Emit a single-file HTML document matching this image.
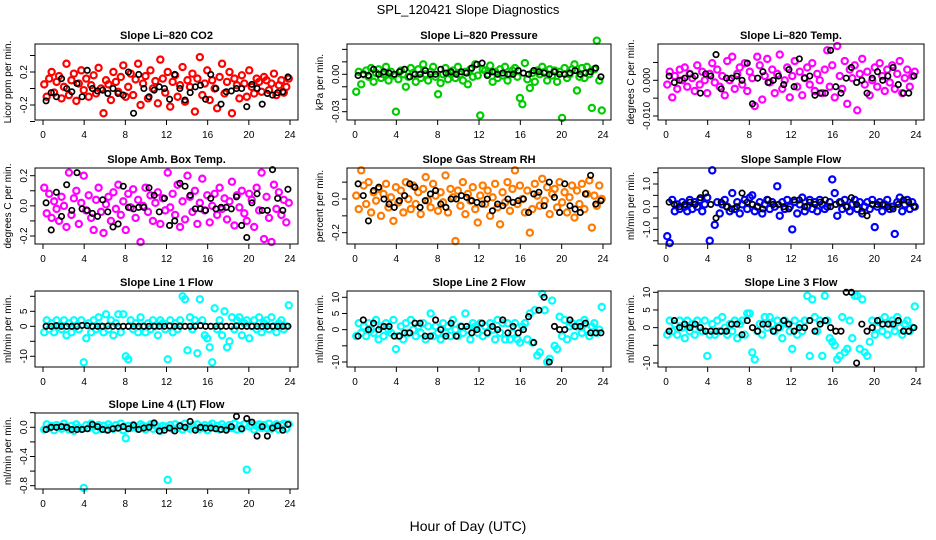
<!DOCTYPE html>
<html><head><meta charset="utf-8"><style>
html,body{margin:0;padding:0;background:#fff;}
svg{display:block;font-family:"Liberation Sans",sans-serif;}
</style></head><body>
<svg id="chart" width="936" height="540" viewBox="0 0 936 540">
<text x="468" y="14" text-anchor="middle" font-size="13">SPL_120421  Slope Diagnostics</text>
<text x="468" y="531" text-anchor="middle" font-size="14">Hour of Day (UTC)</text>
</svg>
<script>
// ---- data (values in panel units × unit multiplier) ----
const xTicks = [0,4,8,12,16,20,24];
const co2Vals = [.05,-.1,.12,.2,-.05,.08,.15,-.12,.02,.3,-.08,.1,.18,-.15,.06,.22,-.02,.12,-.1,.04,
.16,-.06,.25,0,-.3,.1,.05,-.14,.2,.08,-.04,.14,.28,-.1,.02,.18,-.08,.11,.3,-.2,
.06,.15,-.12,.22,0,.09,-.18,.35,.12,-.05,.2,-.22,.08,.16,-.1,.04,.26,-.16,.1,.02,
.18,-.28,.12,.38,-.08,.06,.22,-.14,.1,0,-.24,.14,.3,-.06,.08,.2,-.3,.12,.04,-.12,
.16,.06,-.1,.22,.02,-.06,.12,.08,-.04,.14,.1,-.02,.06,.18,-.08,.04,.1,-.05,.02,.12];
const co2Black = [-.15,-.05,-.1,.12,0,-.04,.06,-.1,.22,0,-.03,-.02,-.06,0,-.06,-.08,.2,-.3,.17,0,-.1,-.02,.02,0,-.13,.17,0,-.14,-.05,.02,.04,-.13,.17,0,-.19,-.04,-.03,0,0,-.22,.05,0,-.19,-.06,-.08,-.05,-.04,.14];
const presVals = [-14,2,-8,0,3,-2,5,-6,1,4,-3,0,6,-5,2,-1,-30,-4,3,0,-10,-2,5,1,-6,4,-3,8,0,-5,2,6,-2,-16,-7,0,5,-4,1,3,-3,6,0,-5,2,-8,4,-2,8,-1,-33,4,3,0,7,-6,2,-3,4,-1,6,-5,0,3,5,-2,-19,-24,9,-4,-11,1,-6,3,0,6,2,-5,4,-1,3,-6,2,-35,5,-3,0,4,8,-13,-2,5,-3,6,0,-27,4,27,-5,-29];
const presBlack = [-1,0,-1,4,0,2,1,0,2,4,-2,0,0,3,0,0,4,1,2,0,2,1,5,8,9,-1,2,0,1,0,0,3,1,0,3,2,1,0,2,0,0,1,3,0,1,2,5,-2];
const tempVals = [-2,4,-8,2,-4,5,0,6,-3,3,1,-5,7,-2,4,0,-6,3,8,-1,5,-3,2,-7,9,0,11,-4,3,6,-2,8,-5,4,1,-12,11,7,-9,2,10,-1,5,-6,3,12,-4,0,6,-8,2,9,-3,4,-7,1,6,-2,8,-5,3,0,-6,5,14,-3,7,-8,16,2,-4,9,-11,5,1,7,-14,3,10,-2,4,-7,0,6,-3,8,2,-5,5,-1,7,-4,3,9,-6,1,5,-3,2,4];
const tempBlack = [2,-1,0,1,3,2,-6,3,2,12,-4,1,1,2,0,8,-11,1,4,-1,0,2,-2,5,-3,10,1,2,-7,-6,-6,14,-3,-6,1,6,-1,0,-6,1,4,0,2,6,-2,-6,-6,2];
const ambVals = [12,-5,8,-8,3,-2,-10,6,0,-14,22,-6,5,10,-12,2,20,-3,7,-8,-16,4,12,-4,-18,1,6,-10,9,-2,14,-6,3,-16,8,-1,11,-8,4,-24,0,12,-4,7,-10,2,9,-12,5,-3,22,-1,8,-6,14,-14,3,-9,20,6,-4,10,-12,2,18,-3,7,-11,0,8,-6,12,-2,5,-9,3,16,-13,7,-1,10,-5,-10,8,4,-14,12,-3,22,-22,6,-8,-24,14,-2,9,-6,4,-11,2];
const ambBlack = [2,-16,9,-7,14,-3,22,-2,-3,-5,-7,4,-4,-14,-12,13,-1,-2,-1,-1,12,7,-4,5,-13,-10,15,13,7,-2,-2,-3,5,-2,-1,-1,-2,6,-13,-21,2,8,-3,-3,24,5,-3,11];
const rhVals = [2,-6,17,8,-3,10,-8,4,-1,6,-10,3,9,-5,1,-13,7,-2,5,-8,10,0,-6,8,-3,4,-9,6,13,-1,-5,9,2,-7,4,-2,14,-8,6,1,-25,5,-4,10,-9,3,-1,7,-6,-14,2,8,-3,5,-10,1,9,-5,-15,4,-2,10,-7,6,17,-3,8,0,-8,5,-20,-6,9,2,-4,12,-1,7,-9,3,6,-5,10,-2,4,-8,1,8,-11,5,-3,9,-6,3,11,-17,2,-4,8,0];
const rhBlack = [9,2,-13,5,7,0,-3,-5,-1,2,9,7,-5,-1,3,5,-3,-5,0,0,2,1,-1,-2,-3,0,-7,-3,-4,0,-2,-1,0,-8,3,4,-4,10,1,-8,9,-4,-6,-8,3,14,-3,-1];
const sflowVals = [-13,-16,3,-2,1,-1,2,0,-2,3,-1,2,0,3,-2,1,4,-15,16,-8,2,-3,1,3,0,-2,6,-1,2,-3,1,3,-1,4,5,-2,0,2,-3,1,3,-1,2,0,9,-4,2,-1,3,0,-10,2,-3,1,4,-2,0,3,-1,2,-2,3,1,-1,0,2,12,6,-4,2,-1,3,0,-2,1,3,-1,2,-3,0,2,-1,3,-9,0,2,-2,1,3,-1,0,-12,2,4,-2,1,3,-1,2,0];
const sflowBlack = [2,1,0,1,2,1,4,6,1,-5,2,0,-1,0,6,2,1,0,-1,3,1,1,0,-1,3,3,0,2,1,2,3,0,1,2,0,4,1,-2,-4,1,1,1,0,-1,1,3,2,0];
const l1Vals = [-2,2,-1,1,-2,2,0,-1,2,-3,1,-2,2,0,-1,2,-12,-4,1,-2,2,-1,3,0,-2,4,-1,2,-3,1,4,-2,4,-10,-11,2,-1,1,-2,3,0,-2,1,-1,2,0,-3,2,1,-1,-11,2,-2,1,-1,2,10,9,-8,3,-1,2,-9,9,2,-3,-4,-7,-12,6,-1,2,-3,5,-7,-5,3,-1,2,3,-3,1,2,-4,0,2,-1,3,-2,1,2,-1,3,0,-2,1,2,-1,0,7];
const l1Black = [0,0,.2,0,0,0,0,.3,.2,0,0,0,.1,0,0,0,0,0,0,0,0,0,0,0,.1,0,0,0,0,0,.2,0,0,0,0,0,0,.1,0,0,0,0,0,0,0,0,0,0];
const l2Vals = [-2,2,-1,1,-2,2,0,-1,3,-3,1,-2,2,0,-1,3,-6,-2,1,-3,2,-1,3,0,-2,1,-1,2,-3,1,5,-2,1,-1,-3,2,-1,1,-2,3,0,-2,1,-1,5,0,-3,2,1,-1,2,-2,1,-1,2,0,-3,3,-1,2,-3,2,-3,-1,2,-3,-4,1,2,-3,5,-4,6,-8,-7,11,6,-10,-9,9,-5,-6,4,-2,3,-3,1,2,-2,1,2,-1,3,0,-2,1,2,-1,0,7];
const l2Black = [-2,3,0,2,0,1,1,-2,-2,-1,-1,2,2,-2,-2,3,0,-2,2,-2,1,1,-1,0,2,-1,1,0,3,-1,1,-1,0,4,-4,6,10,-10,1,0,0,3,1,1,2,-1,-1,-1];
const l3Vals = [-2,2,-1,1,-2,2,0,-3,2,-1,1,-2,2,0,-1,2,-8,-2,1,-2,2,-1,3,0,-2,1,-1,2,-3,1,2,-2,4,4,-7,-9,-1,1,-2,3,0,3,1,-1,2,0,-3,2,1,-1,-6,2,-2,1,-1,2,9,-8,8,3,-1,2,-8,9,2,-3,-4,-5,-9,-8,3,-7,-6,2,-3,9,9,-6,8,-7,-8,-4,2,-2,0,2,-1,3,-2,1,2,-1,3,0,-2,1,2,-1,0,6];
const l3Black = [-1,2,0,1,0,1,0,-1,-1,-1,-1,-1,1,1,-2,2,0,-1,1,1,-1,0,2,1,-1,0,0,2,-1,1,2,0,-1,-1,10,10,-10,1,-1,0,2,1,1,1,2,-1,-1,0];
const l4Vals = [-3,4,-1,2,-4,3,0,-2,5,1,-3,2,-5,4,0,-2,-83,3,-1,5,1,-4,3,-2,2,-3,4,0,-2,3,-1,5,-4,-15,2,-1,3,0,-2,4,2,-3,1,4,-2,3,0,-5,2,1,-72,3,-2,4,-1,2,-3,5,0,-2,3,-1,4,-2,0,3,-4,2,5,-1,2,-3,4,0,-2,3,-1,5,-3,2,-2,4,-58,1,3,-3,2,4,-1,3,-1,5,-2,2,4,-3,3,5,-2,4];
const l4Black = [-3,0,0,1,0,-3,-3,-3,-2,4,1,-3,-4,-2,-1,1,-2,3,-3,-1,0,6,-5,-4,-1,-5,2,0,8,-4,0,-1,-1,-2,-3,-4,1,15,-2,12,7,-12,1,-12,-1,2,-4,4];

// ---- layout ----
const colL=[35,347,658], colR=[298,611,924], rowT=[44,168,291,413], rowB=[120,244,367,489];
const panels = [
 {name:'co2',title:'Slope Li\u2013820 CO2',ylab:'Licor ppm per min.',col:'#ff0000',c:0,r:0,unit:1,vals:co2Vals,blk:co2Black,cal:[0.2,72,-0.2,105],ticks:[0.4,0.2,0,-0.2,-0.4],labs:['','0.2','','-0.2','']},
 {name:'pressure',title:'Slope Li\u2013820 Pressure',ylab:'kPa per min.',col:'#00cc00',c:1,r:0,unit:0.001,vals:presVals,blk:presBlack,cal:[0,74.3,-0.03,111.7],ticks:[0.02,0.01,0,-0.01,-0.02,-0.03],labs:['','','0.00','','','-0.03']},
 {name:'temp',title:'Slope Li\u2013820 Temp.',ylab:'degrees C per min.',col:'#ff00ff',c:2,r:0,unit:0.0006,vals:tempVals,blk:tempBlack,cal:[0,80.3,-0.01,116],ticks:[0.005,0,-0.005,-0.01],labs:['','0.000','','-0.010']},
 {name:'amb-box-temp',title:'Slope Amb. Box Temp.',ylab:'degrees C per min.',col:'#ff00ff',c:0,r:1,unit:0.01,vals:ambVals,blk:ambBlack,cal:[0.2,175.7,-0.2,236],ticks:[0.2,0.1,0,-0.1,-0.2],labs:['0.2','','0.0','','-0.2']},
 {name:'gas-stream-rh',title:'Slope Gas Stream RH',ylab:'percent per min.',col:'#ff7a00',c:1,r:1,unit:0.01,vals:rhVals,blk:rhBlack,cal:[0,199,-0.2,232.7],ticks:[0.1,0,-0.1,-0.2],labs:['','0.0','','-0.2']},
 {name:'sample-flow',title:'Slope Sample Flow',ylab:'ml/min per min.',col:'#0000ff',c:2,r:1,unit:0.1,vals:sflowVals,blk:sflowBlack,cal:[1,184,0,206.7],ticks:[1.5,1,0.5,0,-0.5,-1,-1.5],labs:['','1.0','','0.0','','-1.0','']},
 {name:'line1-flow',title:'Slope Line 1 Flow',ylab:'ml/min per min.',col:'#00ffff',c:0,r:2,unit:1,vals:l1Vals,blk:l1Black,cal:[5,311.3,0,326.3],ticks:[10,5,0,-5,-10],labs:['','5','0','','-10']},
 {name:'line2-flow',title:'Slope Line 2 Flow',ylab:'ml/min per min.',col:'#00ffff',c:1,r:2,unit:1,vals:l2Vals,blk:l2Black,cal:[10,297.3,-10,362],ticks:[10,5,0,-5,-10],labs:['10','5','0','','-10']},
 {name:'line3-flow',title:'Slope Line 3 Flow',ylab:'ml/min per min.',col:'#00ffff',c:2,r:2,unit:1,vals:l3Vals,blk:l3Black,cal:[10,292.3,-10,363],ticks:[10,5,0,-5,-10],labs:['10','5','0','','-10']},
 {name:'line4-flow',title:'Slope Line 4 (LT) Flow',ylab:'ml/min per min.',col:'#00ffff',c:0,r:3,unit:0.01,vals:l4Vals,blk:l4Black,cal:[0,427.3,-0.8,485.7],ticks:[0.2,0,-0.2,-0.4,-0.6,-0.8],labs:['','0.0','','-0.4','','-0.8']}
];
const NS='http://www.w3.org/2000/svg', svg=document.getElementById('chart');
function mk(tag,attrs,parent){const e=document.createElementNS(NS,tag);for(const k in attrs)e.setAttribute(k,attrs[k]);(parent||svg).appendChild(e);return e;}
panels.forEach(p=>{
  const L=colL[p.c],R=colR[p.c],T=rowT[p.r],B=rowB[p.r];
  const g=mk('g',{});
  
  
  const xs=h=>L+8+(R-L-16)*h/24;
  const [v0,p0,v1,p1]=p.cal;
  const ys=v=>p0+(v-v0)*(p1-p0)/(v1-v0);
  const pts=mk('g',{fill:'none',stroke:p.col,'stroke-width':2.2},g);
  
  
  const n=p.vals.length;
  p.vals.forEach((v,i)=>{
    const c=mk('circle',{cx:xs((i+0.5)*24/n),cy:ys(v*p.unit),r:3.1},pts);
    
    
  });
  const bk=mk('g',{fill:'none',stroke:'#000','stroke-width':1.7},g);
  
  
  const m=p.blk.length;
  p.blk.forEach((v,i)=>{
    const c=mk('circle',{cx:xs((i+1)*24/m-0.2),cy:ys(v*p.unit),r:2.7},bk);
    
    
  });
  const box=mk('rect',{x:L,y:T,width:R-L,height:B-T,fill:'none',stroke:'#000','stroke-width':1},g);
  
  
  const t=mk('text',{x:(L+R)/2,y:T-5,'text-anchor':'middle','font-size':11,'font-weight':'bold'},g);
  t.textContent=p.title;
  
  
  const yl=mk('text',{transform:`translate(${L-24},${(T+B)/2}) rotate(-90)`,'text-anchor':'middle','font-size':10},g);
  yl.textContent=p.ylab;
  
  
  mk('line',{x1:xs(0),x2:xs(24),y1:B,y2:B,stroke:'#000'},g);
  xTicks.forEach(h=>{
    mk('line',{x1:xs(h),x2:xs(h),y1:B,y2:B+5,stroke:'#000'},g);
    const tx=mk('text',{x:xs(h),y:B+18,'text-anchor':'middle','font-size':10},g);
    tx.textContent=h;
    
    
  });
  p.ticks.forEach((v,i)=>{
    const y=ys(v);
    mk('line',{x1:L-5,x2:L,y1:y,y2:y,stroke:'#000'},g);
    if(p.labs[i]){
      const ty=mk('text',{transform:`translate(${L-8},${y}) rotate(-90)`,'text-anchor':'middle','font-size':10},g);
      ty.textContent=p.labs[i];
      
      
    }
  });
});
</script>
</body></html>
